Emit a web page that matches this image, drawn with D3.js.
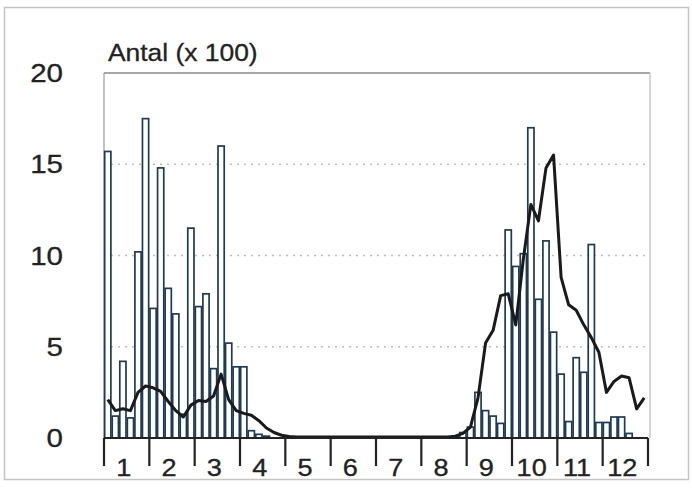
<!DOCTYPE html>
<html>
<head>
<meta charset="utf-8">
<script src="https://cdn.jsdelivr.net/npm/d3@7"></script>
<style>
  html, body { margin: 0; padding: 0; background: #fff; }
  svg { display: block; }
  text { font-family: "Liberation Sans", Arial, sans-serif; fill: #222; }
</style>
</head>
<body>
<svg id="chart" width="692" height="490"></svg>
<script>
// ---- data ----
const months = ["1","2","3","4","5","6","7","8","9","10","11","12"];
const yTicks = [0, 5, 10, 15, 20];
const gridValues = [5, 10, 15];
const yTitle = "Antal (x 100)";

// six periods per month (72 periods), values in hundreds
const barValues = [
  15.7, 1.2, 4.2, 1.1, 10.2, 17.5,
  7.1, 14.8, 8.2, 6.8, 1.3, 11.5,
  7.2, 7.9, 3.8, 16.0, 5.2, 3.9,
  3.9, 0.4, 0.2, 0.1, 0, 0,
  0, 0, 0, 0, 0, 0,
  0, 0, 0, 0, 0, 0,
  0, 0, 0, 0, 0, 0,
  0, 0, 0, 0, 0.1, 0.3,
  0.6, 2.5, 1.5, 1.2, 0.8, 11.4,
  9.4, 10.1, 17.0, 7.6, 10.8, 5.8,
  3.5, 0.9, 4.4, 3.6, 10.6, 0.85,
  0.85, 1.15, 1.15, 0.25, 0, 0
];
const lineValues = [
  2.1, 1.5, 1.6, 1.5, 2.5, 2.85,
  2.75, 2.55, 2.0, 1.5, 1.15, 1.8,
  2.05, 2.0, 2.3, 3.5, 2.1, 1.5,
  1.35, 1.25, 0.95, 0.55, 0.3, 0.15,
  0.08, 0.05, 0.05, 0.05, 0.05, 0.05,
  0.05, 0.05, 0.05, 0.05, 0.05, 0.05,
  0.05, 0.05, 0.05, 0.05, 0.05, 0.05,
  0.05, 0.05, 0.05, 0.05, 0.1, 0.25,
  0.6, 2.2, 5.2, 5.9, 7.8, 7.9,
  6.2, 9.8, 12.8, 11.9, 14.8, 15.5,
  8.8, 7.3, 7.0, 6.2, 5.5, 4.7,
  2.5, 3.1, 3.4, 3.3, 1.6, 2.2
];

// ---- layout ----
const svg = d3.select("#chart");
const L = 104, R = 648, T = 73, B = 438;
const SX = 1.18; // horizontal stretch of the lettering

const x = d3.scaleBand().domain(d3.range(barValues.length)).range([L, R]).paddingInner(0.18).paddingOuter(0.09);
const xm = d3.scaleBand().domain(months).range([L, R]);
const y = d3.scaleLinear().domain([0, 20]).range([B, T]);

// outer frame
svg.append("rect").attr("x", 4.5).attr("y", 7.5).attr("width", 684).attr("height", 472)
  .attr("fill", "none").attr("stroke", "#c4c4c4").attr("stroke-width", 1.5);

// plot frame
svg.append("line").attr("x1", L).attr("x2", R + 2).attr("y1", y(20)).attr("y2", y(20))
  .attr("stroke", "#8a8a8a").attr("stroke-width", 1.5);
svg.append("line").attr("x1", L).attr("x2", L).attr("y1", y(20)).attr("y2", B)
  .attr("stroke", "#9a9a9a").attr("stroke-width", 1.2);
svg.append("line").attr("x1", R + 2).attr("x2", R + 2).attr("y1", y(20)).attr("y2", B)
  .attr("stroke", "#b5bcc6").attr("stroke-width", 1.2);

// dotted grid
svg.append("g").selectAll("line").data(gridValues).join("line")
  .attr("x1", L).attr("x2", R).attr("y1", d => y(d)).attr("y2", d => y(d))
  .attr("stroke", "#bdbdbd").attr("stroke-width", 1.5).attr("stroke-dasharray", "2,5");

// y labels
svg.append("g").selectAll("text").data(yTicks).join("text")
  .attr("transform", d => `translate(63,${y(d)}) scale(${SX},1)`)
  .attr("dy", "0.36em").attr("text-anchor", "end").attr("font-size", 25)
  .attr("stroke", "#222").attr("stroke-width", 0.3).text(d => d);

// title
svg.append("text").attr("transform", `translate(108,61) scale(1.1,1)`)
  .attr("font-size", 24).attr("stroke", "#222").attr("stroke-width", 0.3).text(yTitle);

// bars
svg.append("g").selectAll("rect").data(barValues.map((v, i) => ({i, v})).filter(d => d.v > 0)).join("rect")
  .attr("x", d => x(d.i)).attr("width", x.bandwidth())
  .attr("y", d => y(d.v)).attr("height", d => B - y(d.v))
  .attr("fill", "#fff").attr("stroke", "#1f3a52").attr("stroke-width", 1.7);

// line
const line = d3.line()
  .x((d, i) => x(i) + x.bandwidth() / 2)
  .y(d => y(d))
  .curve(d3.curveLinear);
svg.append("path").datum(lineValues).attr("d", line)
  .attr("fill", "none").attr("stroke", "#1a1a1a").attr("stroke-width", 3)
  .attr("stroke-linejoin", "round");

// x axis
svg.append("line").attr("x1", L).attr("x2", R).attr("y1", B).attr("y2", B)
  .attr("stroke", "#222").attr("stroke-width", 2);
const tickPos = months.map(m => xm(m)).concat([R]);
svg.append("g").selectAll("line").data(tickPos).join("line")
  .attr("x1", d => d).attr("x2", d => d).attr("y1", B).attr("y2", B + 28)
  .attr("stroke", "#222").attr("stroke-width", 2.2);
svg.append("g").selectAll("text").data(months).join("text")
  .attr("transform", d => `translate(${xm(d) + xm.bandwidth() / 2 - 3},476) scale(${SX},1)`)
  .attr("text-anchor", "middle").attr("font-size", 23)
  .attr("stroke", "#222").attr("stroke-width", 0.3).text(d => d);
</script>
</body>
</html>
